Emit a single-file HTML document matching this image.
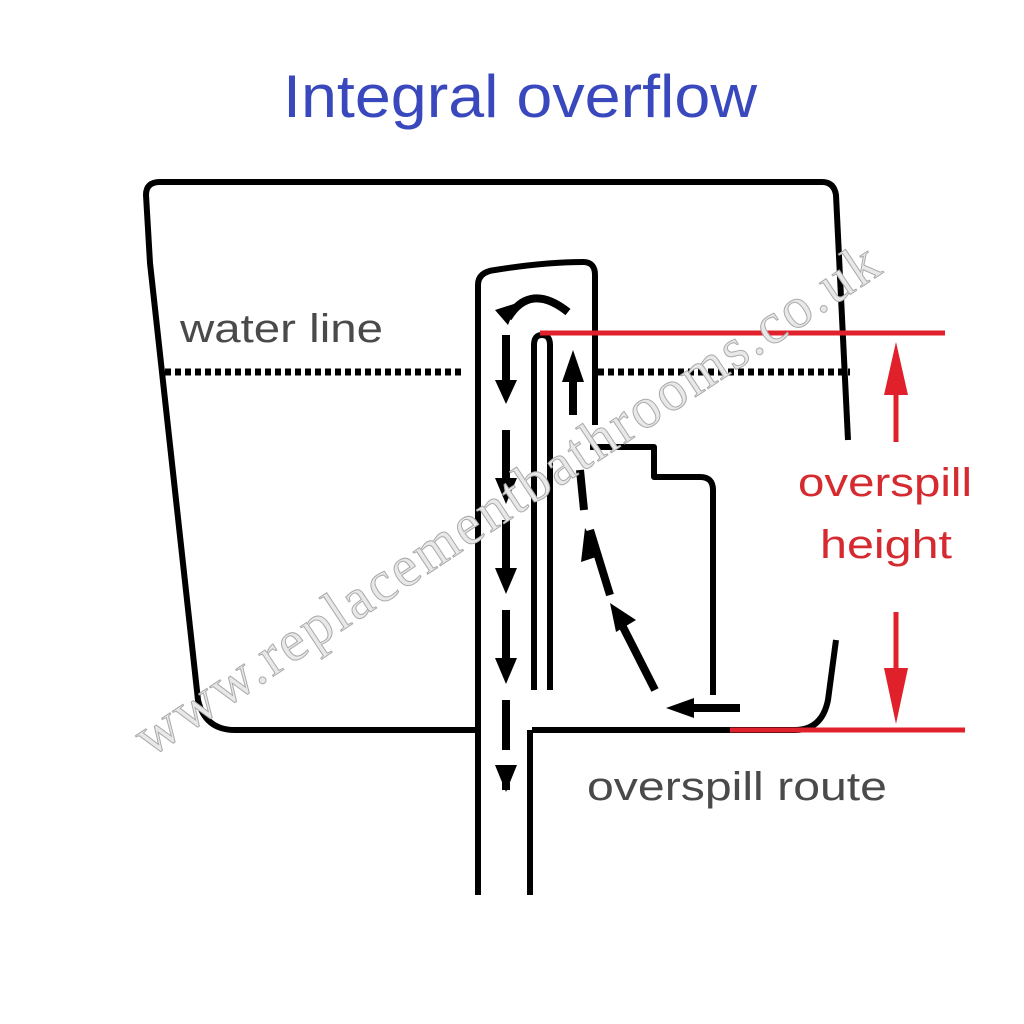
<!DOCTYPE html>
<html><head><style>
html,body{margin:0;padding:0;background:#fff;width:1024px;height:1024px;overflow:hidden}
svg{display:block}
</style></head><body>
<svg width="1024" height="1024" viewBox="0 0 1024 1024" xmlns="http://www.w3.org/2000/svg">
<rect width="1024" height="1024" fill="#fff"/>
<text x="283" y="117" font-family="Liberation Sans, DejaVu Sans, sans-serif" font-size="60" fill="#3a48bd" textLength="474" lengthAdjust="spacingAndGlyphs">Integral overflow</text>
<g fill="none" stroke="#000" stroke-width="6" stroke-linejoin="round">
<path d="M478,730 L235,730 Q205,730 198,700 L150,263 L146,195 Q146,182 160,182 L822,182 Q834,182 836,195 L848,440"/>
<path d="M836,640 L828,700 Q822,730 795,730 L532,730"/>
<path d="M478,895 L478,285 Q478,272 495,270 Q545,262 583,262 Q595,262 595,275 L595,425"/>
<path d="M530,895 L530,730"/>
<path d="M534,690 L534,345 Q534,335 542,335 Q550,335 550,345 L550,690"/>
<path d="M590,447 L654,447 L654,477 L700,477 Q713,477 713,490 L713,695"/>
</g>
<g stroke="#000" stroke-width="7" stroke-dasharray="6,4">
<line x1="165" y1="372" x2="462" y2="372"/>
<line x1="598" y1="372" x2="850" y2="372"/>
</g>
<g stroke="#000" stroke-width="8" fill="none">
<path d="M508,318 Q530,282 568,312"/>
<line x1="506" y1="335" x2="506" y2="380"/>
<line x1="506" y1="430" x2="506" y2="480"/>
<line x1="506" y1="520" x2="506" y2="570"/>
<line x1="506" y1="610" x2="506" y2="660"/>
<line x1="506" y1="700" x2="506" y2="750"/>
<line x1="506" y1="765" x2="506" y2="790"/>
<line x1="573" y1="375" x2="573" y2="415"/>
<line x1="580" y1="470" x2="584" y2="510"/>
<line x1="590" y1="530" x2="610" y2="595"/>
<line x1="622" y1="625" x2="655" y2="690"/>
<line x1="690" y1="708" x2="740" y2="708"/>
</g>
<g fill="#000">
<polygon points="495,310 517,303 508,325"/>
<polygon points="495,380 517,380 506,404"/>
<polygon points="495,478 517,478 506,504"/>
<polygon points="495,568 517,568 506,594"/>
<polygon points="495,658 517,658 506,684"/>
<polygon points="495,765 517,765 506,792"/>
<polygon points="562,382 584,382 573,350"/>
<polygon points="581,562 602,555 585,528"/>
<polygon points="616,632 636,620 610,603"/>
<polygon points="694,698 694,718 666,708"/>
</g>
<g stroke="#e0202a" stroke-width="5">
<line x1="540" y1="333" x2="945" y2="333"/>
<line x1="730" y1="730" x2="965" y2="730"/>
<line x1="896" y1="385" x2="896" y2="442"/>
<line x1="896" y1="612" x2="896" y2="675"/>
</g>
<g fill="#e0202a">
<polygon points="884,395 908,395 896,342"/>
<polygon points="884,668 908,668 896,724"/>
</g>
<g font-family="Liberation Sans, DejaVu Sans, sans-serif" font-size="40" lengthAdjust="spacingAndGlyphs">
<text x="180" y="342" fill="#4a4a4a" textLength="203" lengthAdjust="spacingAndGlyphs">water line</text>
<text x="798" y="496" fill="#d42a30" textLength="174" lengthAdjust="spacingAndGlyphs">overspill</text>
<text x="820" y="558" fill="#d42a30" textLength="132" lengthAdjust="spacingAndGlyphs">height</text>
<text x="587" y="800" fill="#4a4a4a" textLength="300" lengthAdjust="spacingAndGlyphs">overspill route</text>
</g>
<text x="0" y="0" transform="translate(150,758) rotate(-33.5)" font-family="Liberation Serif, serif" font-size="58" fill="#e8e8e8" stroke="#aaa" stroke-width="1" textLength="880">www.replacementbathrooms.co.uk</text>
</svg>
</body></html>
